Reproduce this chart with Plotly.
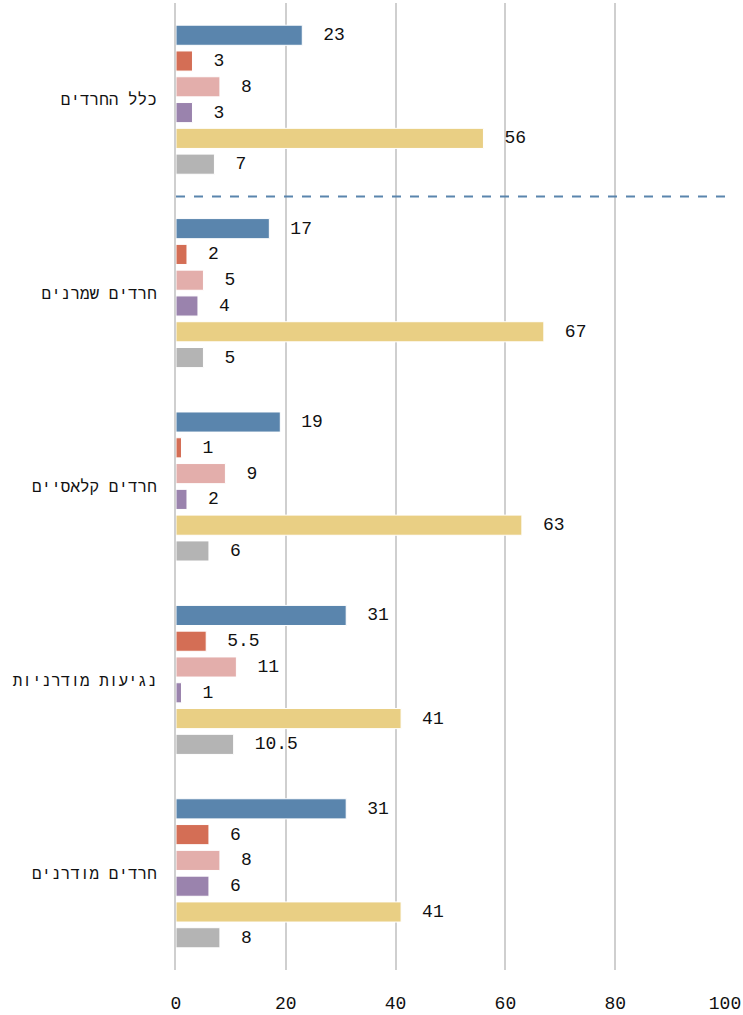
import plotly.graph_objects as go

groups = ["כלל החרדים", "חרדים שמרנים", "חרדים קלאסיים", "נגיעות מודרניות", "חרדים מודרנים"]

series_1 = [23, 17, 19, 31, 31]
series_2 = [3, 2, 1, 5.5, 6]
series_3 = [8, 5, 9, 11, 8]
series_4 = [3, 4, 2, 1, 6]
series_5 = [56, 67, 63, 41, 41]
series_6 = [7, 5, 6, 10.5, 8]

all_series = [series_1, series_2, series_3, series_4, series_5, series_6]
colors = ["#5a85ad", "#d46e55", "#e3aeab", "#9a83ad", "#e9cf84", "#b4b4b4"]

FONT = "Liberation Mono"

fig = go.Figure()

for i, (vals, col) in enumerate(zip(all_series, colors)):
    fig.add_trace(go.Bar(
        x=vals,
        y=groups,
        orientation="h",
        name=f"series {i + 1}",
        marker=dict(color=col, line=dict(color="white", width=1)),
        text=vals,
        texttemplate="\u2002\u2002%{x}",
        textposition="outside",
        cliponaxis=False,
        textfont=dict(family=FONT, size=18, color="#111111"),
    ))

# dashed separator under the first group
fig.add_shape(
    type="line",
    xref="x", yref="y",
    x0=0, x1=100, y0=0.5, y1=0.5,
    line=dict(color="#5a85ad", width=2, dash="dash"),
)

fig.update_layout(
    template="plotly_white",
    width=743,
    height=1015,
    barmode="group",
    bargap=0.2,
    bargroupgap=0.22,
    showlegend=False,
    plot_bgcolor="white",
    paper_bgcolor="white",
    margin=dict(l=176, r=18, t=3, b=45),
    font=dict(family=FONT, size=18, color="#111111"),
    xaxis=dict(
        range=[0, 100],
        dtick=20,
        showgrid=True,
        gridcolor="#cfcfcf",
        gridwidth=2,
        zeroline=False,
        showline=False,
        ticks="",
        automargin=False,
        ticklabelstandoff=20,
        tickfont=dict(family=FONT, size=18, color="#111111"),
    ),
    yaxis=dict(
        range=[4.5, -0.5],
        showgrid=False,
        showline=True,
        linecolor="#cfcfcf",
        linewidth=2,
        ticks="",
        automargin=False,
        ticklabelstandoff=14,
        tickfont=dict(family=FONT, size=16, color="#111111"),
    ),
)

# page body has a default 8px margin; drop it so the figure sits at 0,0
fig.write_html(
    "out.html",
    config={"displayModeBar": False},
    post_script="document.body.style.margin='0';",
)
